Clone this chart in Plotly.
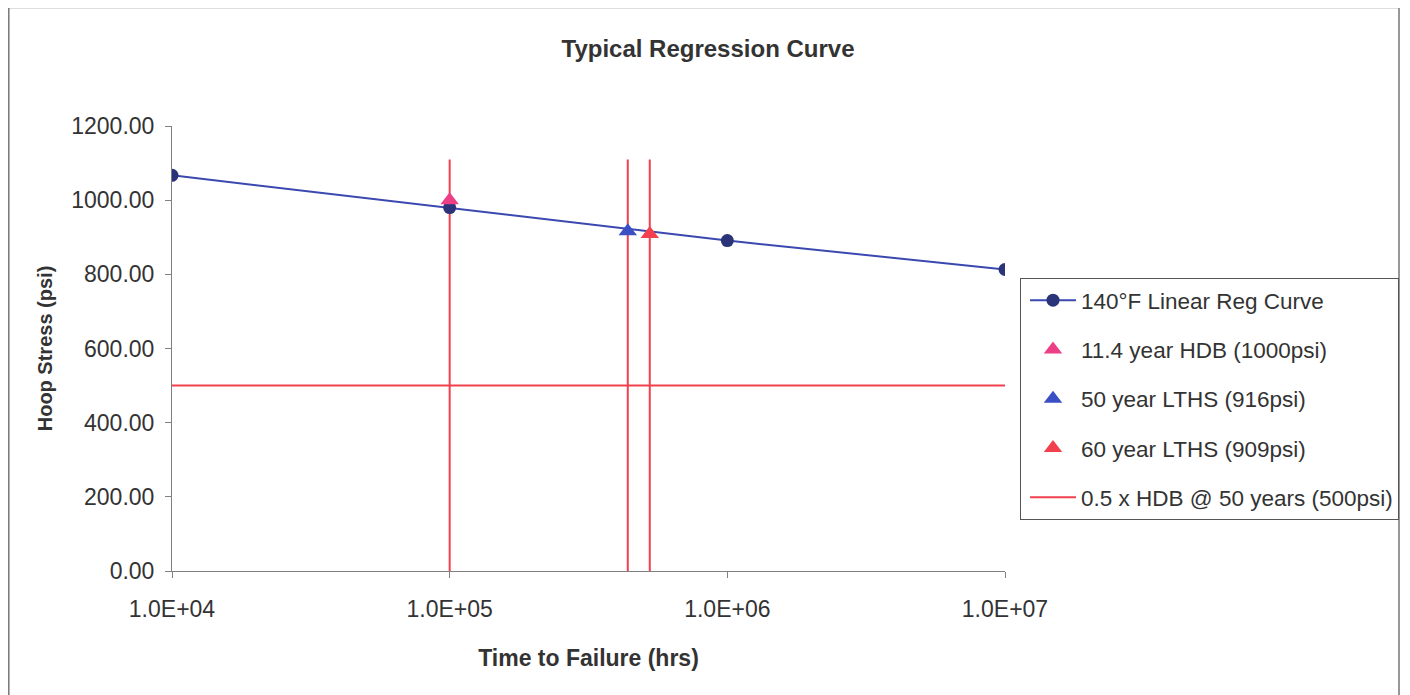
import plotly.graph_objects as go

# ---- data ----
reg_time = [1e4, 1e5, 1e6, 1e7]
reg_stress = [1067, 980, 891, 813]

hdb_time = [1e5]
hdb_stress = [1000]
lths50_time = [438000]
lths50_stress = [916]
lths60_time = [525600]
lths60_stress = [909]

half_hdb_time = [1e4, 1e7]
half_hdb_stress = [500, 500]

vline_times = [1e5, 438000, 525600]
vline_range = [0, 1110]

x_tickvals = [1e4, 1e5, 1e6, 1e7]
x_ticktext = ["1.0E+04", "1.0E+05", "1.0E+06", "1.0E+07"]
y_tickvals = [0, 200, 400, 600, 800, 1000, 1200]
y_ticktext = ["0.00", "200.00", "400.00", "600.00", "800.00", "1000.00", "1200.00"]

RED = "#f2404e"
FONT = "Liberation Sans, Arial, sans-serif"
TXT = "#333333"

fig = go.Figure()

# vertical marker lines (no legend)
for t in vline_times:
    fig.add_trace(go.Scatter(x=[t, t], y=vline_range, mode="lines",
                             line=dict(color=RED, width=2),
                             showlegend=False, hoverinfo="skip"))

fig.add_trace(go.Scatter(x=half_hdb_time, y=half_hdb_stress, mode="lines",
                         line=dict(color=RED, width=2),
                         name="0.5 x HDB @ 50 years (500psi)", legendrank=5,
                         legendgroup="e"))

fig.add_trace(go.Scatter(x=reg_time, y=reg_stress, mode="lines+markers",
                         line=dict(color="#3a48b0", width=2),
                         marker=dict(color="#2b3478", size=13, symbol="circle"),
                         name="140°F Linear Reg Curve", legendrank=1,
                         legendgroup="a"))

fig.add_trace(go.Scatter(x=hdb_time, y=hdb_stress, mode="markers",
                         marker=dict(color="#ec3f86", size=16, symbol="triangle-up"),
                         name="11.4 year HDB (1000psi)", legendrank=2,
                         legendgroup="b"))
fig.add_trace(go.Scatter(x=lths50_time, y=lths50_stress, mode="markers",
                         marker=dict(color="#3a4fc4", size=16, symbol="triangle-up"),
                         name="50 year LTHS (916psi)", legendrank=3,
                         legendgroup="c"))
fig.add_trace(go.Scatter(x=lths60_time, y=lths60_stress, mode="markers",
                         marker=dict(color="#f2404e", size=16, symbol="triangle-up"),
                         name="60 year LTHS (909psi)", legendrank=4,
                         legendgroup="d"))

OFF = 8  # page offset of the figure
W, H = 1410 - OFF + 4, 695 - OFF
L, T = 172 - OFF, 126 - OFF
pw, ph = 833, 445
R = W - L - pw
B = H - T - ph


def px(xp):
    return (xp - OFF - L) / pw


def py(yp):
    return (T + ph - (yp - OFF)) / ph


fig.update_layout(
    width=W, height=H,
    margin=dict(l=L, r=R, t=T, b=B),
    paper_bgcolor="white", plot_bgcolor="white",
    font=dict(family=FONT, color=TXT, size=22),
    title=dict(text="<b>Typical Regression Curve</b>", x=(708 - OFF) / W,
               xref="container", xanchor="center",
               y=1 - (48.5 - OFF) / H, yref="container", yanchor="middle",
               font=dict(size=24, color=TXT)),
    xaxis=dict(type="log", range=[4, 7], tickvals=x_tickvals, ticktext=x_ticktext,
               showgrid=False, zeroline=False, showline=True, linecolor="#808080",
               linewidth=1, ticks="outside", ticklen=6, tickcolor="#808080",
               ticklabelstandoff=11,
               tickfont=dict(size=23, color=TXT),
               title=dict(text="<b>Time to Failure (hrs)</b>", standoff=29,
                          font=dict(size=23, color=TXT))),
    yaxis=dict(range=[0, 1200], tickvals=y_tickvals, ticktext=y_ticktext,
               showgrid=False, zeroline=False, showline=True, linecolor="#808080",
               linewidth=1, ticks="outside", ticklen=6, tickcolor="#808080",
               ticklabelstandoff=6,
               tickfont=dict(size=23, color=TXT),
               title=dict(text="<b>Hoop Stress (psi)</b>", standoff=13,
                          font=dict(size=20, color=TXT))),
    legend=dict(x=px(1020), y=py(278), xanchor="left", yanchor="top",
                bordercolor="#555555", borderwidth=1, bgcolor="white",
                font=dict(size=22.5, color=TXT),
                itemwidth=46, indentation=4,
                traceorder="grouped", tracegroupgap=17),
    showlegend=True,
    shapes=[dict(type="rect", xref="paper", yref="paper",
                 x0=(0.8 - L) / pw, x1=px(1399),
                 y0=py(720), y1=py(7.5),
                 line=dict(color="#777777", width=1.5), fillcolor="rgba(0,0,0,0)",
                 layer="below")],
)

fig.write_html("out.html")
